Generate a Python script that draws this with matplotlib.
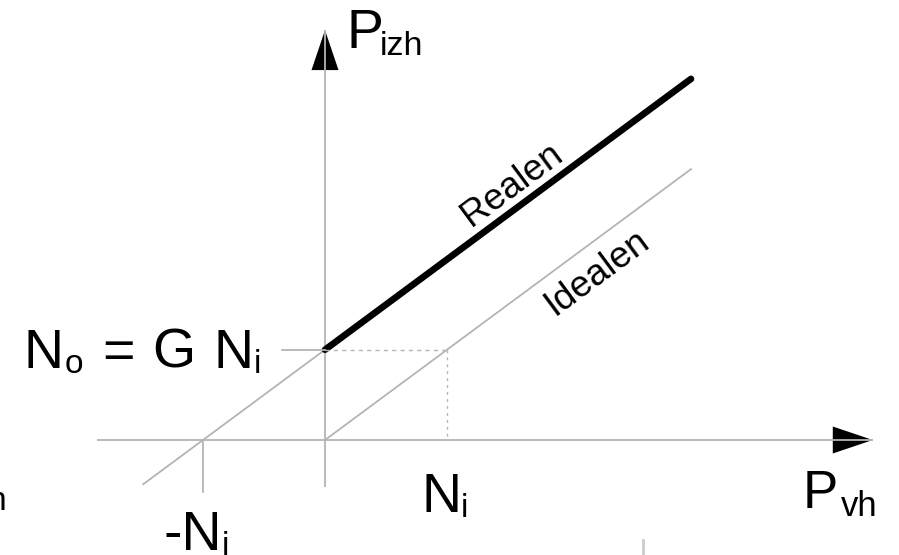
import matplotlib
matplotlib.use("Agg")
import matplotlib.pyplot as plt

# ---- data (units: N_i = 1) ----
Ni = 1.0
G = 0.74                      # gain (slope of characteristics)
No = G * Ni                   # output noise level
x_line = [0.0, 3.0]           # extent of the characteristics
x_ext = [-1.49, 0.0]          # extrapolation of the real line
x_axis = [-1.87, 4.49]        # P_vh axis extent (tip)
y_axis = [-0.385, 3.36]       # P_izh axis extent (tip)
tick_neg_len = 0.426
tick_no_len = 0.35
real_label = "Realen"
ideal_label = "Idealen"

PX = 122.0                    # pixels per unit
W, H = 899, 555
ox, oy = 325, 440             # origin in pixels

fig = plt.figure(figsize=(W / 100, H / 100), dpi=100)
ax = fig.add_axes([0, 0, 1, 1])
ax.set_xlim(-ox / PX, (W - ox) / PX)
ax.set_ylim(-(H - oy) / PX, oy / PX)
ax.axis("off")

gray = "#b4b4b4"
font = "Liberation Sans"

# axes lines
ax.plot(x_axis, [0, 0], color=gray, lw=1.3, solid_capstyle="butt")
ax.plot([0, 0], y_axis, color=gray, lw=1.3, solid_capstyle="butt")
hl, hw = 40 / PX, 13.5 / PX
ax.fill([x_axis[1], x_axis[1] - hl, x_axis[1] - hl], [0, hw, -hw], color="black", lw=0)
ax.fill([0, hw, -hw], [y_axis[1], y_axis[1] - hl, y_axis[1] - hl], color="black", lw=0)

# ideal line
ax.plot(x_line, [G * x for x in x_line], color=gray, lw=1.3)
# real line extension
ax.plot(x_ext, [G * x + No for x in x_ext], color=gray, lw=1.3)
# real line
ax.plot(x_line, [G * x + No for x in x_line], color="black", lw=4.8, solid_capstyle="round")

# ticks
ax.plot([-Ni, -Ni], [0, -tick_neg_len], color=gray, lw=1.3)
ax.plot([-tick_no_len, 0], [No, No], color=gray, lw=1.3)
ax.plot([0, Ni], [No, No], color=gray, lw=1.0, ls=(0, (3, 3)))
ax.plot([Ni, Ni], [No, 0], color=gray, lw=1.0, ls=(0, (2, 3)))

# stray fragment at bottom edge (cropped from source)
ax.plot([(643 - ox) / PX] * 2, [-(540 - oy) / PX, -(H - oy) / PX], color="#cccccc", lw=2)


def label(py, segments, size=40, subsize=24, drop=5):
    """segments: list of (text, is_sub, x_px); py: baseline in pixels."""
    for txt, sub, px in segments:
        dy = drop if sub else 0
        ax.text((px - ox) / PX, (oy - (py + dy)) / PX, txt,
                fontsize=subsize if sub else size, family=font,
                ha="left", va="baseline", color="black")


label(48, [("P", False, 346), ("izh", True, 380)], subsize=24.5, drop=7)
label(368, [("N", False, 24), ("o", True, 65), ("=", False, 102), ("G", False, 152),
            ("N", False, 213), ("i", True, 254)])
label(512, [("N", False, 421), ("i", True, 461)])
label(550, [("-N", False, 163), ("i", True, 222)])
label(508, [("P", False, 803), ("vh", True, 841)], size=38, subsize=25, drop=8)
label(505, [("h", True, -12)])

ang = 36.5
ax.text((512 - ox) / PX, (oy - 185) / PX, real_label, rotation=ang, rotation_mode="anchor",
        ha="center", va="center", fontsize=26.5, family=font)
ax.text((597 - ox) / PX, (oy - 273) / PX, ideal_label, rotation=ang, rotation_mode="anchor",
        ha="center", va="center", fontsize=26.5, family=font)

fig.savefig("out.png", dpi=100)
